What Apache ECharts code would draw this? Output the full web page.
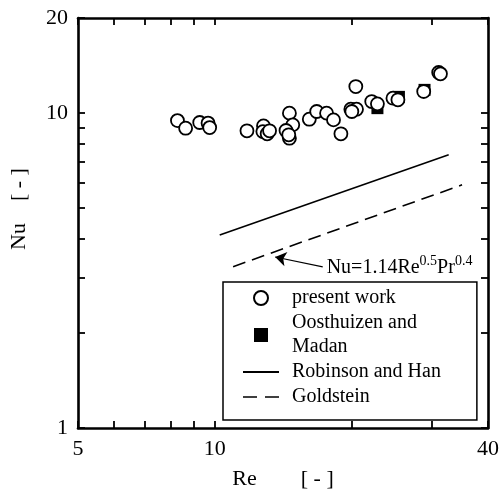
<!DOCTYPE html>
<html>
<head>
<meta charset="utf-8">
<title>Nu - Re</title>
<script src="https://cdn.jsdelivr.net/npm/echarts@6/dist/echarts.min.js"></script>
<style>
html, body { margin: 0; padding: 0; background: #fff; }
#chart { width: 502px; height: 496px; }
</style>
</head>
<body>
<div id="chart"></div>
<script>
/*******************************/
/* data */
/*******************************/
// present work (open circles): Re, Nu
var workRe = [8.28, 8.63, 9.27, 9.67, 9.75, 11.78, 12.81, 12.77, 13.05, 13.21,
	14.61, 14.86, 14.36, 14.61, 14.56, 16.16, 16.78, 17.64, 18.27, 18.97,
	20.46, 19.95, 20.53, 20.05, 22.18, 22.83, 24.70, 25.33, 28.87, 31.15, 31.43];
var workNu = [9.45, 8.94, 9.32, 9.28, 8.98, 8.77, 9.09, 8.72, 8.58, 8.77,
	9.98, 9.16, 8.79, 8.31, 8.52, 9.55, 10.10, 9.98, 9.50, 8.58,
	12.12, 10.27, 10.27, 10.10, 10.86, 10.68, 11.13, 11.00, 11.69, 13.43, 13.30];
// Oosthuizen and Madan (filled squares)
var oostRe = [22.83, 25.46, 28.99];
var oostNu = [10.35, 11.24, 11.83];
// Robinson and Han (solid line)
var robRe = [10.26, 32.77];
var robNu = [4.10, 7.36];
// Goldstein (dashed line)
var goldRe = [10.98, 35.07];
var goldNu = [3.25, 5.91];
// arrow of the Nu=1.14Re^0.5Pr^0.4 note: from, to
var noteFrom = [17.3, 3.245];
var noteTo = [13.59, 3.49];
// axis ticks and labels
var xTicks = [5, 6, 7, 8, 9, 10, 20, 30, 40];
var xLabels = [5, 10, 40];
var yTicks = [1, 2, 3, 4, 5, 6, 7, 8, 9, 10, 20];
var yLabels = [1, 10, 20];

var serif = 'Liberation Serif';
var clear = 'rgba(0,0,0,0)';

/* pair two arrays into [x, y] points */
function pairs(xs, ys) {
	return xs.map(function (x, i) { return [x, ys[i]]; });
}

/* one axis of the box */
function makeAxis(pos, ticks, labels, min, max, showLabel) {
	return {
		type: 'log',
		logBase: 10,
		position: pos,
		min: min,
		max: max,
		splitLine: { show: false },
		axisLine: { show: true, onZero: false, lineStyle: { color: '#000', width: 2.6 } },
		axisTick: { show: true, inside: true, length: 7, customValues: ticks,
			lineStyle: { color: '#000', width: 1.8 } },
		axisLabel: { show: showLabel, customValues: labels, margin: 10,
			color: '#000', fontFamily: serif, fontSize: 22 }
	};
}

var xMain = makeAxis('bottom', xTicks, xLabels, 5, 40, true);
xMain.name = 'Re        [ - ]';
xMain.nameLocation = 'middle';
xMain.nameGap = 40;
xMain.nameTextStyle = { color: '#000', fontFamily: serif, fontSize: 22 };

var yMain = makeAxis('left', yTicks, yLabels, 1, 20, true);
yMain.name = 'Nu    [ - ]';
yMain.nameLocation = 'middle';
yMain.nameGap = 48;
yMain.nameTextStyle = { color: '#000', fontFamily: serif, fontSize: 22, padding: [0, 0, 0, 28] };

var chart = echarts.init(document.getElementById('chart'));
chart.setOption({
	animation: false,
	backgroundColor: '#fff',
	grid: { left: 76, top: 18, right: 14, bottom: 68 },
	xAxis: [xMain, makeAxis('top', xTicks, xLabels, 5, 40, false)],
	yAxis: [yMain, makeAxis('right', yTicks, yLabels, 1, 20, false)],
	legend: {
		orient: 'vertical',
		left: 223,
		top: 282,
		padding: [4, 36, 11, 19],
		itemWidth: 36,
		itemHeight: 14,
		itemGap: 1,
		borderColor: '#000',
		borderWidth: 1.5,
		backgroundColor: '#fff',
		selectedMode: false,
		textStyle: { color: '#000', fontFamily: serif, fontSize: 20, lineHeight: 24, padding: [0, 0, 0, 8] },
		formatter: function (name) {
			return name === 'Oosthuizen and Madan' ? 'Oosthuizen and\nMadan' : name;
		},
		data: [
			{ name: 'present work' },
			{ name: 'Oosthuizen and Madan', icon: 'path://M0,0H10V10H0Z' },
			{ name: 'Robinson and Han', itemStyle: { color: clear, borderColor: clear } },
			{ name: 'Goldstein', itemStyle: { color: clear, borderColor: clear },
				lineStyle: { type: [14, 8], width: 1.6, color: '#000' } }
		]
	},
	series: [
		{
			name: 'Robinson and Han',
			type: 'line',
			symbol: 'none',
			data: pairs(robRe, robNu),
			itemStyle: { color: '#000' },
			lineStyle: { color: '#000', width: 1.6 }
		},
		{
			name: 'Goldstein',
			type: 'line',
			symbol: 'none',
			data: pairs(goldRe, goldNu),
			itemStyle: { color: '#000' },
			lineStyle: { color: '#000', width: 1.6, type: [13, 7] },
			markLine: {
				silent: true,
				symbol: ['none', 'arrow'],
				symbolSize: 11,
				lineStyle: { color: '#000', width: 1.1, type: 'solid' },
				label: {
					show: true,
					position: 'start',
					distance: 4,
					color: '#000',
					fontFamily: serif,
					fontSize: 20,
					formatter: 'Nu=1.14Re{sup|0.5}Pr{sup|0.4}',
					rich: { sup: { fontSize: 14, fontFamily: serif, color: '#000', padding: [0, 0, 12, 0] } }
				},
				data: [[{ coord: noteFrom }, { coord: noteTo }]]
			}
		},
		{
			name: 'present work',
			type: 'scatter',
			symbol: 'circle',
			symbolSize: 13,
			data: pairs(workRe, workNu),
			itemStyle: { color: '#fff', borderColor: '#000', borderWidth: 1.8, opacity: 1 }
		},
		{
			name: 'Oosthuizen and Madan',
			type: 'scatter',
			symbol: 'rect',
			symbolSize: 12,
			z: 1,
			data: pairs(oostRe, oostNu),
			itemStyle: { color: '#000', opacity: 1 }
		}
	]
});
</script>
</body>
</html>
